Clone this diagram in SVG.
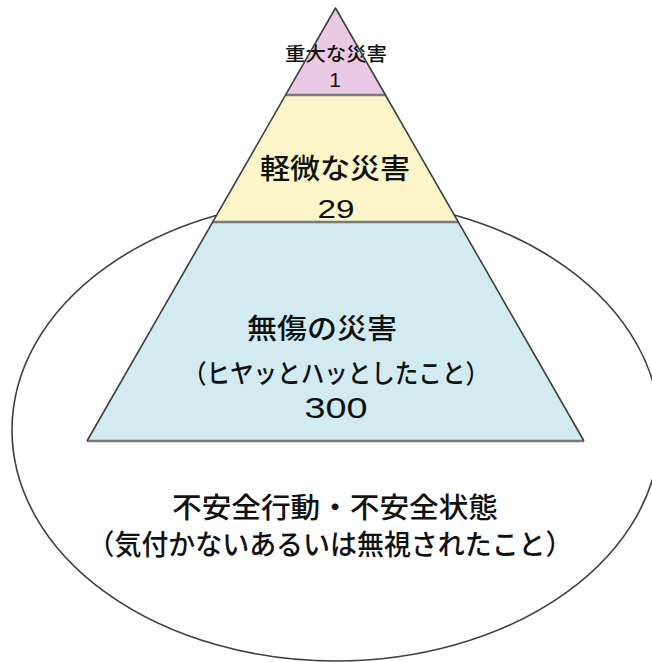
<svg xmlns="http://www.w3.org/2000/svg" width="652" height="662" viewBox="0 0 652 662">
<style>
.t{font-family:"Noto Sans CJK JP","Noto Sans",sans-serif;font-weight:500;fill:#111111;text-anchor:middle}
.n{font-family:"Liberation Sans","Noto Sans CJK JP",sans-serif;fill:#111111;text-anchor:middle}
.edge{fill:none;stroke:#3f3f3f;stroke-width:1.6;stroke-linejoin:round}
.sep{stroke:#7a7a7a;stroke-width:2.5}
</style>
<rect width="652" height="662" fill="#ffffff"/>
<g id="ellipse-unsafe">
<ellipse cx="336" cy="430" rx="324" ry="231" fill="#ffffff" stroke="#3f3f3f" stroke-width="1.6"/>
<text class="t" x="335" y="518" font-size="28" textLength="326" lengthAdjust="spacingAndGlyphs">不安全行動・不安全状態</text>
<text class="t" x="330" y="555" font-size="28" textLength="485" lengthAdjust="spacingAndGlyphs">（気付かないあるいは無視されたこと）</text>
</g>
<g id="tier-noinjury">
<polygon points="212.5,222 458.5,222 584,441 87,441" fill="#d2ebf1"/>
<text class="t" x="322" y="339" font-size="28" textLength="150" lengthAdjust="spacingAndGlyphs">無傷の災害</text>
<text class="t" x="336" y="383" font-size="26" textLength="306" lengthAdjust="spacingAndGlyphs">（ヒヤッとハッとしたこと）</text>
<text class="n" x="336" y="418" font-size="30" textLength="63" lengthAdjust="spacingAndGlyphs">300</text>
</g>
<g id="tier-minor">
<polygon points="285.5,95 385.5,95 458.5,222 212.5,222" fill="#fbf5c9"/>
<text class="t" x="335" y="179" font-size="28" textLength="150" lengthAdjust="spacingAndGlyphs">軽微な災害</text>
<text class="n" x="336" y="218" font-size="26" textLength="37" lengthAdjust="spacingAndGlyphs">29</text>
</g>
<g id="tier-serious">
<polygon points="335.5,8 385.5,95 285.5,95" fill="#e9c9e4"/>
<text class="t" x="336" y="61" font-size="19" textLength="102" lengthAdjust="spacingAndGlyphs">重大な災害</text>
<text class="n" x="335" y="87" font-size="21">1</text>
</g>
<g id="connectors">
<line class="sep" x1="285.5" y1="95" x2="385.5" y2="95"/>
<line class="sep" x1="212.5" y1="222" x2="458.5" y2="222"/>
<line class="sep" x1="87" y1="441" x2="584" y2="441"/>
<polyline class="edge" points="87,441 335.5,8 584,441"/>
</g>
</svg>
